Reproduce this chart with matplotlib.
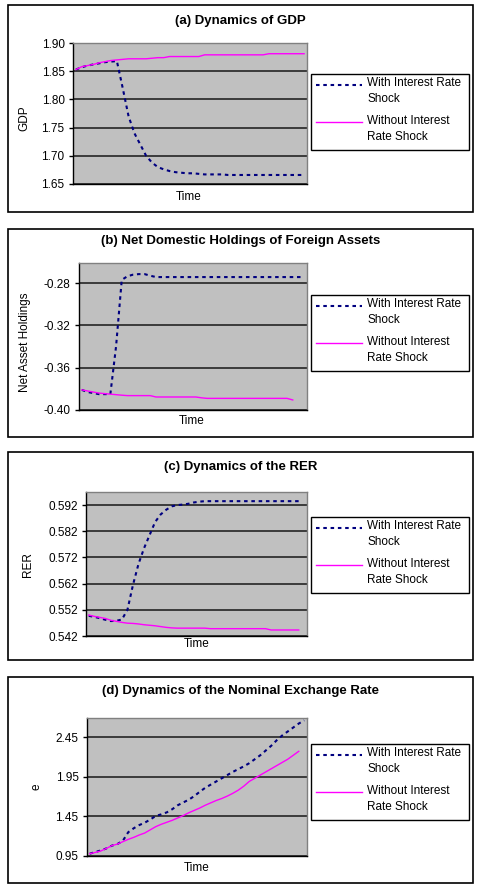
import matplotlib
matplotlib.use('Agg')
import matplotlib.pyplot as plt
from matplotlib.patches import Rectangle
from matplotlib.lines import Line2D

plt.rcParams['font.family'] = ['Liberation Sans', 'DejaVu Sans']

# (a) GDP
gdp_shock = [1.853, 1.857, 1.860, 1.862, 1.864, 1.866, 1.867, 1.868, 1.820, 1.770,
             1.740, 1.720, 1.700, 1.688, 1.680, 1.676, 1.673, 1.671, 1.670, 1.669,
             1.669, 1.668, 1.667, 1.667, 1.667, 1.667, 1.666, 1.666, 1.666, 1.666,
             1.666, 1.666, 1.666, 1.666, 1.666, 1.666, 1.666, 1.666, 1.666, 1.666]
gdp_base = [1.853, 1.858, 1.860, 1.862, 1.865, 1.867, 1.869, 1.870, 1.871, 1.872,
            1.872, 1.872, 1.872, 1.873, 1.874, 1.874, 1.876, 1.876, 1.876, 1.876,
            1.876, 1.876, 1.879, 1.879, 1.879, 1.879, 1.879, 1.879, 1.879, 1.879,
            1.879, 1.879, 1.879, 1.881, 1.881, 1.881, 1.881, 1.881, 1.881, 1.881]

# (b) net foreign assets
nfa_shock = [-0.381, -0.383, -0.384, -0.385, -0.385, -0.385, -0.340, -0.277, -0.2735, -0.272,
             -0.2715, -0.2715, -0.273, -0.2743, -0.2743, -0.2743, -0.2743, -0.2743, -0.2743, -0.2743,
             -0.2743, -0.2743, -0.2743, -0.2743, -0.2743, -0.2743, -0.2743, -0.2743, -0.2743, -0.2743,
             -0.2743, -0.2743, -0.2743, -0.2743, -0.2743, -0.2743, -0.2743, -0.2743, -0.2743, -0.2743]
nfa_base = [-0.381, -0.382, -0.383, -0.384, -0.3845, -0.385, -0.3855, -0.386, -0.3864, -0.3864,
            -0.3864, -0.3864, -0.3864, -0.3877, -0.3877, -0.3877, -0.3877, -0.3877, -0.3877, -0.3877,
            -0.3877, -0.3885, -0.389, -0.389, -0.389, -0.389, -0.389, -0.389, -0.389, -0.389,
            -0.389, -0.389, -0.389, -0.389, -0.389, -0.389, -0.389, -0.3905]

# (c) real exchange rate
rer_shock = [0.5497, 0.5493, 0.5488, 0.5482, 0.5477, 0.5478, 0.5483, 0.5520, 0.5615, 0.5695,
             0.5755, 0.5805, 0.5855, 0.5884, 0.5902, 0.5915, 0.5920, 0.5922, 0.5925, 0.5930,
             0.5933, 0.5935, 0.5935, 0.5935, 0.5935, 0.5935, 0.5935, 0.5935, 0.5935, 0.5935,
             0.5935, 0.5935, 0.5935, 0.5935, 0.5935, 0.5935, 0.5935, 0.5935, 0.5935]
rer_base = [0.5500, 0.5495, 0.5491, 0.5487, 0.5480, 0.5476, 0.5472, 0.5469, 0.5468, 0.5466,
            0.5463, 0.5461, 0.5459, 0.5456, 0.5453, 0.5451, 0.5450, 0.5450, 0.5450, 0.5450,
            0.5450, 0.5450, 0.5448, 0.5448, 0.5448, 0.5448, 0.5448, 0.5448, 0.5448, 0.5448,
            0.5448, 0.5448, 0.5448, 0.5443, 0.5443, 0.5443, 0.5443, 0.5443, 0.5443]

# (d) nominal exchange rate
e_shock = [0.979, 1.000, 1.020, 1.045, 1.080, 1.100, 1.140, 1.250, 1.300, 1.340,
           1.370, 1.410, 1.455, 1.475, 1.500, 1.540, 1.590, 1.625, 1.660, 1.705,
           1.760, 1.810, 1.850, 1.890, 1.930, 1.970, 2.010, 2.045, 2.080, 2.120,
           2.170, 2.220, 2.280, 2.340, 2.410, 2.470, 2.520, 2.570, 2.620, 2.660]
e_base = [0.979, 0.995, 1.013, 1.045, 1.080, 1.100, 1.130, 1.160, 1.185, 1.215,
          1.240, 1.280, 1.320, 1.350, 1.375, 1.400, 1.430, 1.460, 1.495, 1.525,
          1.555, 1.590, 1.620, 1.650, 1.675, 1.705, 1.740, 1.780, 1.830, 1.890,
          1.930, 1.970, 2.010, 2.050, 2.090, 2.130, 2.170, 2.220, 2.270]

n_periods = 40

titles = ['(a) Dynamics of GDP', '(b) Net Domestic Holdings of Foreign Assets',
          '(c) Dynamics of the RER', '(d) Dynamics of the Nominal Exchange Rate']
ylabels = ['GDP', 'Net Asset Holdings', 'RER', 'e']
yticks = [[1.65, 1.70, 1.75, 1.80, 1.85, 1.90],
          [-0.40, -0.36, -0.32, -0.28],
          [0.542, 0.552, 0.562, 0.572, 0.582, 0.592],
          [0.95, 1.45, 1.95, 2.45]]
ytick_fmt = ['%.2f', '%.2f', '%.3f', '%.2f']
ylims = [(1.65, 1.90), (-0.40, -0.261), (0.542, 0.597), (0.95, 2.69)]
series = [(gdp_shock, gdp_base), (nfa_shock, nfa_base), (rer_shock, rer_base), (e_shock, e_base)]
legend_lines = [['With Interest Rate', 'Shock'], ['Without Interest', 'Rate Shock']]

shock_style = dict(color='#000080', lw=1.5, linestyle=(0, (1.7, 1.8)))
base_style = dict(color='#FF00FF', lw=1.0)
fs = 8.5

# pixel layout (478 x 884)
W, H = 478, 884
outer = [(8, 5, 473, 212), (8, 229, 473, 437), (8, 452, 473, 660), (8, 677, 473, 883)]
plot_box = [(73, 43, 307, 184), (79, 263, 307, 410), (86, 492, 307, 636), (87, 718, 307, 856)]
title_y = [21, 241, 467, 691]
ylabel_xy = [(24, 118), (25, 342), (28, 565), (37, 787)]
xlabel_xy = [(189, 197), (192, 421), (197, 644), (197, 868)]
legend_top = [74, 295, 517, 744]


def fx(px):
    return px / W


def fy(py):
    return 1 - py / H


fig = plt.figure(figsize=(W / 100, H / 100), dpi=100)

for k in range(4):
    x0, y0, x1, y1 = outer[k]
    fig.patches.append(Rectangle((fx(x0), fy(y1)), (x1 - x0) / W, (y1 - y0) / H,
                                 transform=fig.transFigure, facecolor='white',
                                 edgecolor='black', linewidth=1.2, zorder=-1))
    l, t, r, b = plot_box[k]
    ax = fig.add_axes([fx(l), fy(b), (r - l) / W, (b - t) / H])
    ax.set_facecolor('#C0C0C0')
    shock, base = series[k]
    ax.plot(range(len(shock)), shock, zorder=3, **shock_style)
    ax.plot(range(len(base)), base, zorder=3, **base_style)
    ax.set_xlim(-0.5, n_periods - 0.5)
    ax.set_ylim(*ylims[k])
    ax.set_yticks(yticks[k])
    ax.set_yticklabels([ytick_fmt[k] % v for v in yticks[k]], fontsize=fs)
    ax.set_xticks([])
    ax.tick_params(axis='y', length=3, width=1, pad=3, color='black')
    ax.yaxis.grid(True, color='#303030', linewidth=1.3)
    ax.set_axisbelow(True)
    for side in ['top', 'right']:
        ax.spines[side].set_color('#808080')
        ax.spines[side].set_linewidth(1)
    for side in ['left', 'bottom']:
        ax.spines[side].set_color('black')
        ax.spines[side].set_linewidth(1)

    fig.text(fx(0.5 * (x0 + x1)), fy(title_y[k]), titles[k], ha='center', va='center',
             fontsize=9.5, fontweight='bold')
    fig.text(fx(ylabel_xy[k][0]), fy(ylabel_xy[k][1]), ylabels[k], rotation=90,
             ha='center', va='center', fontsize=fs)
    fig.text(fx(xlabel_xy[k][0]), fy(xlabel_xy[k][1]), 'Time', ha='center', va='center',
             fontsize=fs)

    # legend box, drawn by hand so the sample sits next to the first text line
    lt = legend_top[k]
    fig.patches.append(Rectangle((fx(311), fy(lt + 76)), 158 / W, 76 / H,
                                 transform=fig.transFigure, facecolor='white',
                                 edgecolor='black', linewidth=1, zorder=5))
    for style, lines, sy, ty in [(shock_style, legend_lines[0], 11, 9),
                                 (base_style, legend_lines[1], 48, 47)]:
        fig.lines.append(Line2D([fx(316), fx(362)], [fy(lt + sy), fy(lt + sy)],
                                transform=fig.transFigure, zorder=6, **style))
        for j, s in enumerate(lines):
            fig.text(fx(367), fy(lt + ty + 16 * j), s, ha='left', va='center',
                     fontsize=fs, zorder=6)

fig.savefig('out.png', dpi=100)
